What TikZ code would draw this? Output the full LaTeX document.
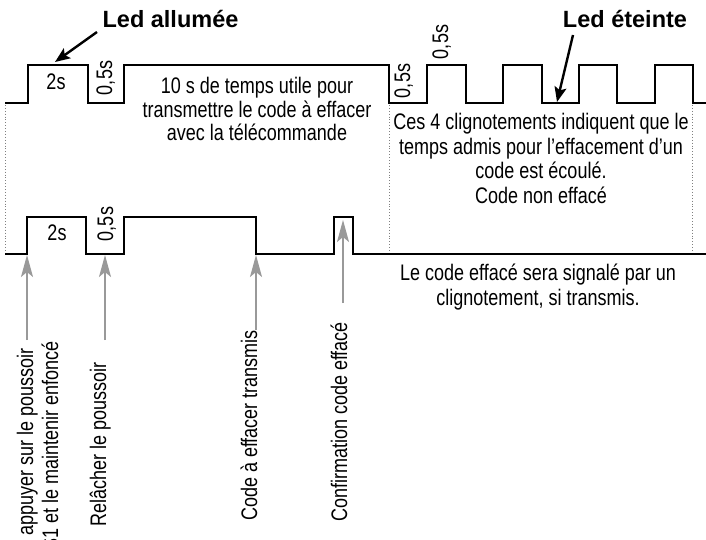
\documentclass[tikz,border=0pt]{standalone}
\usepackage{fontspec}
\setmainfont{Liberation Sans}[FakeStretch=0.80]
\newfontfamily\ledfont{Liberation Sans}
\usetikzlibrary{arrows.meta}
\definecolor{arrowgray}{HTML}{999999}
\definecolor{dotgray}{HTML}{808080}
\begin{document}
\begin{tikzpicture}[x=1pt,y=-1pt,
  wave/.style={line width=2.4pt, line join=miter},
  guide/.style={dotgray, dotted, line width=0.9pt},
  txt/.style={inner sep=0pt, font=\fontsize{22.5}{24}\selectfont},
  htxt/.style={txt, anchor=base},
  vtxt/.style={txt, rotate=90, anchor=base east},
  dur/.style={txt, rotate=90, anchor=base},
  ledlbl/.style={inner sep=0pt, anchor=base, font=\ledfont\bfseries\fontsize{23.5}{27}\selectfont},
  ledarrow/.style={line width=2.4pt, -{Stealth[length=15pt,width=12pt,inset=3pt]}},
  evarrow/.style={arrowgray, line width=1.4pt, -{Stealth[length=22pt,width=12pt,inset=5pt]}}]
\useasboundingbox (0,0) rectangle (706,540);
\fill[white] (0,0) rectangle (706,540);

% guides
\draw[guide] (5,105) -- (5,252);
\draw[guide] (389.5,105) -- (389.5,252);
\draw[guide] (692.5,105) -- (692.5,252);

% top waveform (LED)
\draw[wave] (5,103) -- (28,103) -- (28,65) -- (88,65) -- (88,103) -- (124,103) -- (124,65)
  -- (389,65) -- (389,103) -- (427,103) -- (427,65) -- (466,65) -- (466,103)
  -- (503,103) -- (503,65) -- (542,65) -- (542,103) -- (579,103) -- (579,65)
  -- (617,65) -- (617,103) -- (655,103) -- (655,65) -- (693,65) -- (693,103) -- (712,103);

% bottom waveform (push button / remote)
\draw[wave] (5,254) -- (27,254) -- (27,217) -- (86,217) -- (86,254) -- (124,254) -- (124,217)
  -- (256,217) -- (256,254) -- (334,254) -- (334,217) -- (353,217) -- (353,254) -- (712,254);

% titles
\node[ledlbl] (ledon) at (170.5,28) {Led allumée};
\node[ledlbl] (ledoff) at (625,28) {Led éteinte};
\coordinate (ledonFrom) at (97,32);
\coordinate (ledonTo) at (55,62);
\coordinate (ledoffFrom) at (573,35);
\coordinate (ledoffTo) at (557,102);
\draw[ledarrow] (ledonFrom) -- (ledonTo);
\draw[ledarrow] (ledoffFrom) -- (ledoffTo);

% durations
\node[htxt] (d2top) at (56,90) {2s};
\node[htxt] (d2bot) at (57,240) {2s};
\node[dur] (h1) at (112,78) {0,5s};
\node[dur] (h2) at (410,81) {0,5s};
\node[dur] (h3) at (448,42) {0,5s};
\node[dur] (h4) at (113,224) {0,5s};

% text blocks
\node[htxt] (ta) at (257,93.3) {10 s de temps utile pour};
\node[htxt] (tb) at (257,117.3) {transmettre le code à effacer};
\node[htxt] (tc) at (257,141) {avec la télécommande};

\node[htxt] (ca) at (541,130) {Ces 4 clignotements indiquent que le};
\node[htxt] (cb) at (541,154.3) {temps admis pour l’effacement d’un};
\node[htxt] (cc) at (541,178.6) {code est écoulé.};
\node[htxt] (cd) at (541,203) {Code non effacé};

\node[htxt] (la) at (538,280) {Le code effacé sera signalé par un};
\node[htxt] (lb) at (538,305) {clignotement, si transmis.};

% vertical event labels
\node[vtxt] (e1a) at (33,348) {appuyer sur le poussoir};
\node[vtxt] (e1b) at (58,341) {S1 et le maintenir enfoncé};
\node[vtxt] (e2) at (106,362) {Relâcher le poussoir};
\node[vtxt] (e3) at (257,330) {Code à effacer transmis};
\node[vtxt] (e4) at (347,322) {Confirmation code effacé};

% event arrows
\coordinate (s1) at (27,340);  \coordinate (p1) at (27,255);
\coordinate (s2) at (105,340); \coordinate (p2) at (105,255);
\coordinate (s3) at (256,330); \coordinate (p3) at (256,255);
\coordinate (s4) at (343,303); \coordinate (p4) at (343,220);
\draw[evarrow] (s1) -- (p1);
\draw[evarrow] (s2) -- (p2);
\draw[evarrow] (s3) -- (p3);
\draw[evarrow] (s4) -- (p4);
\end{tikzpicture}
\end{document}
